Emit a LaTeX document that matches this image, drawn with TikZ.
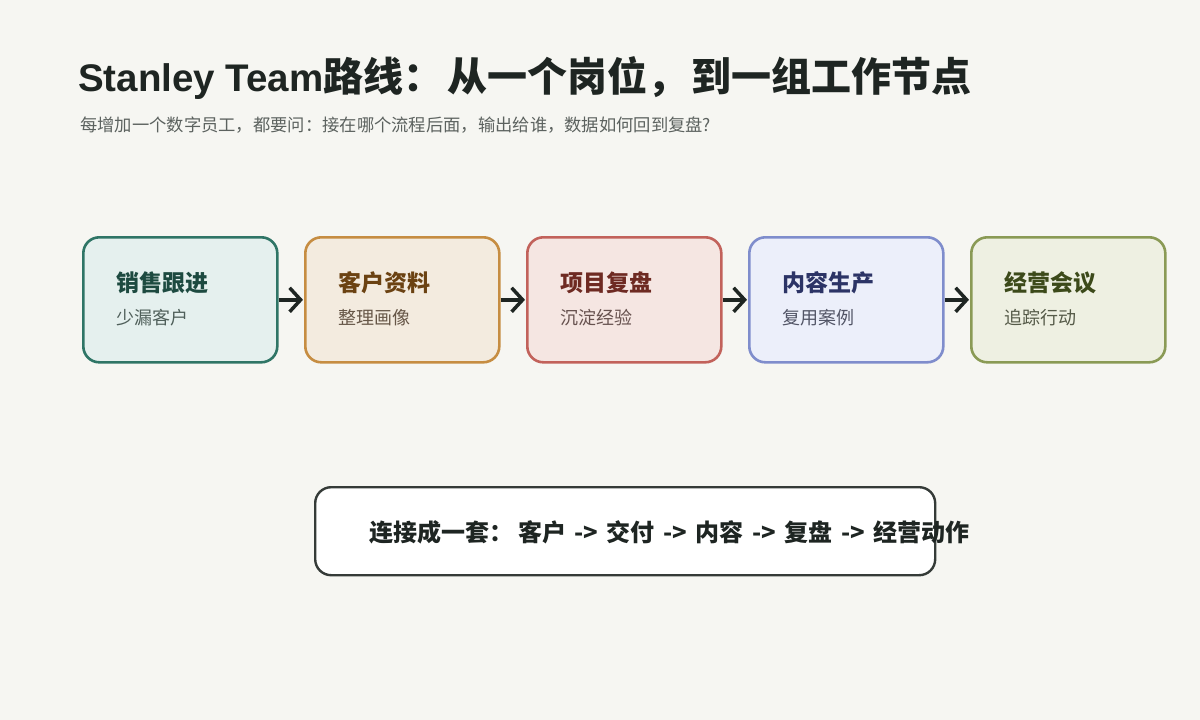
\documentclass[tikz,border=0pt]{standalone}
\usepackage{fontspec}
\setmainfont{Liberation Sans}
\newfontfamily\cjk{Noto Sans CJK SC}
\usetikzlibrary{arrows.meta}
\definecolor{bg}{HTML}{F6F6F2}
\definecolor{ink}{HTML}{1E2522}
\definecolor{subink}{HTML}{5C625F}
\definecolor{bAd}{HTML}{2F7566}\definecolor{bAf}{HTML}{E5F0EE}\definecolor{bAt}{HTML}{1D4A40}\definecolor{bAs}{HTML}{4F5F5A}
\definecolor{bBd}{HTML}{C68D42}\definecolor{bBf}{HTML}{F3EBDF}\definecolor{bBt}{HTML}{6B4212}\definecolor{bBs}{HTML}{665647}
\definecolor{bCd}{HTML}{C2625B}\definecolor{bCf}{HTML}{F5E6E2}\definecolor{bCt}{HTML}{6E2A22}\definecolor{bCs}{HTML}{67524F}
\definecolor{bDd}{HTML}{7F8DCC}\definecolor{bDf}{HTML}{ECEFFA}\definecolor{bDt}{HTML}{2C3466}\definecolor{bDs}{HTML}{525566}
\definecolor{bEd}{HTML}{8A9A55}\definecolor{bEf}{HTML}{EEF0E2}\definecolor{bEt}{HTML}{3C4A1A}\definecolor{bEs}{HTML}{555A48}
\newcommand{\flowsep}{\hspace{3pt}->\hspace{3pt}}
\tikzset{
  stagebox/.style={draw, line width=2.6pt, rounded corners=16pt, minimum width=194pt, minimum height=125pt, inner sep=0pt},
  stagetitle/.style={anchor=west, inner sep=0pt, font=\cjk\bfseries\fontsize{23}{26}\selectfont},
  stagesub/.style={anchor=west, inner sep=0pt, font=\cjk\fontsize{18}{21}\selectfont},
  flow/.style={draw=ink, line width=3.5pt, -{Straight Barb[length=11pt,width=24pt,line width=3.5pt]}, shorten >=1pt},
}
\begin{document}
\begin{tikzpicture}[x=1pt,y=-1pt]
\fill[bg] (0,0) rectangle (1200,720);
\useasboundingbox (0,0) rectangle (1200,720);
\node[anchor=base west, inner sep=0pt, text=ink, font=\bfseries\fontsize{38.5}{46}\selectfont] (title) at (78,91) {Stanley Team{\cjk\fontsize{40}{46}\selectfont 路线：\hspace{4pt}从一个岗位，\hspace{4pt}到一组工作节点}};
\node[anchor=west, inner sep=0pt, text=subink, font=\cjk\fontsize{17.3}{21}\selectfont] (subtitle) at (80,125) {每增加一个数字员工，都要问：接在哪个流程后面，输出给谁，数据如何回到复盘?};
% stages
\foreach \n/\x/\c/\t/\s in {a/82/bA/销售跟进/少漏客户, b/304/bB/客户资料/整理画像, c/526/bC/项目复盘/沉淀经验, d/748/bD/内容生产/复用案例, e/970/bE/经营会议/追踪行动}{
  \node[stagebox, draw=\c d, fill=\c f, anchor=north west] (\n) at (\x,236) {};
  \node[stagetitle, text=\c t] (\n t) at (\x+34,283) {\t};
  \node[stagesub, text=\c s] (\n s) at (\x+34,318) {\s};
}
\draw[flow] (a.east) -- (b.west);
\draw[flow] (b.east) -- (c.west);
\draw[flow] (c.east) -- (d.west);
\draw[flow] (d.east) -- (e.west);
% summary
\node[draw=ink!90, fill=white, line width=2.4pt, rounded corners=16pt, minimum width=620pt, minimum height=88pt, anchor=north west, inner sep=0pt] (sum) at (314,486) {};
\node[anchor=west, inner sep=0pt, text=ink, font=\cjk\bfseries\fontsize{24}{28}\selectfont] (sumt) at (369,532) {连接成一套：\hspace{5pt}客户 \flowsep{} 交付 \flowsep{} 内容 \flowsep{} 复盘 \flowsep{} 经营动作};
\end{tikzpicture}
\end{document}
